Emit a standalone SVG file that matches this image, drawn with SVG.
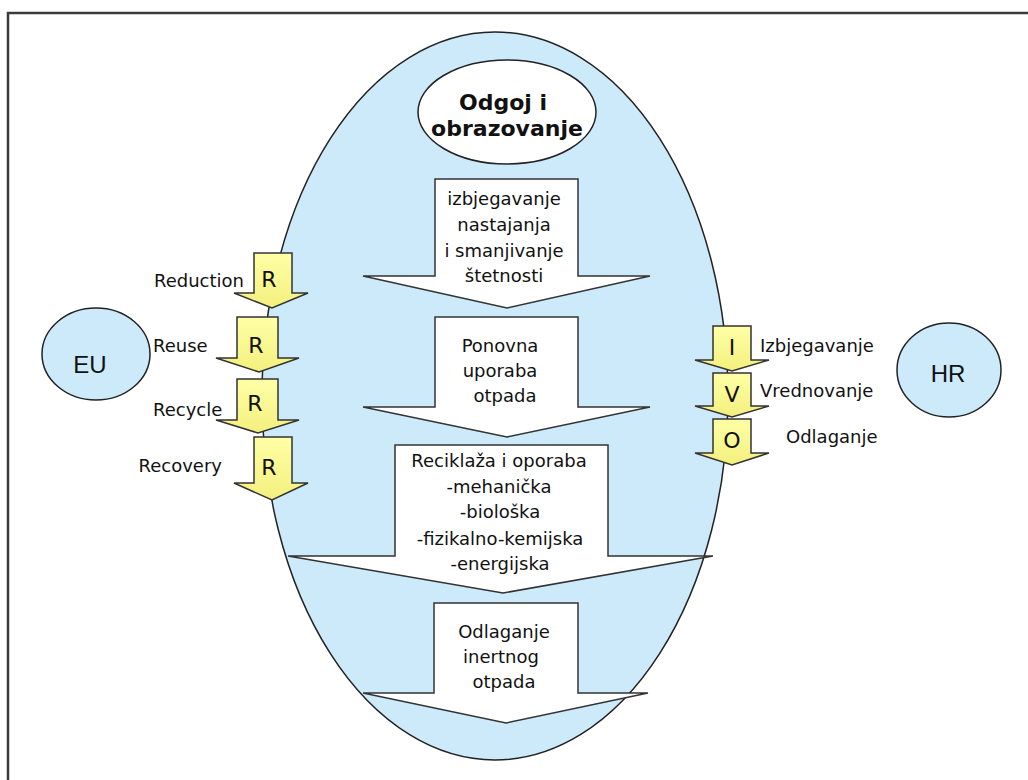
<svg xmlns="http://www.w3.org/2000/svg" width="1028" height="780" viewBox="0 0 1028 780">
<style>
  .frame{fill:#ffffff;stroke:#3a3a3a;stroke-width:2.5}
  .big{fill:#cdeafb;stroke:#222;stroke-width:1.5}
  .oval{fill:#cdeafb;stroke:#222;stroke-width:1.5}
  .white{fill:#ffffff;stroke:#222;stroke-width:1.5}
  .warrow{fill:#ffffff;stroke:#333;stroke-width:1.5;stroke-linejoin:miter}
  .yarrow{fill:url(#yg);stroke:#333;stroke-width:1.5;stroke-linejoin:miter}
  .t{font-family:"DejaVu Sans",Verdana,sans-serif;font-size:18px;fill:#111}
  .c{text-anchor:middle}
  .e{text-anchor:end}
  .letter{font-family:"DejaVu Sans",Verdana,sans-serif;font-size:22px;fill:#111;text-anchor:middle}
  .title{font-family:"DejaVu Sans",Verdana,sans-serif;font-size:22px;font-weight:bold;fill:#111;text-anchor:middle}
  .big-l{font-family:"Liberation Sans",Arial,sans-serif;font-size:24px;fill:#111;text-anchor:middle}
</style>
<defs>
  <linearGradient id="yg" x1="0" y1="0" x2="0" y2="1">
    <stop offset="0" stop-color="#ffffa6"/>
    <stop offset="1" stop-color="#f3f07e"/>
  </linearGradient>
</defs>
<rect class="frame" x="8" y="13" width="1040" height="790"/>

<g id="main-ellipse">
  <ellipse class="big" cx="495" cy="396" rx="233" ry="364"/>
</g>

<g id="odgoj">
  <ellipse class="white" cx="507" cy="112" rx="89" ry="52"/>
  <text class="title" x="503" y="110">Odgoj i</text>
  <text class="title" x="507" y="136">obrazovanje</text>
</g>

<g id="step-izbjegavanje">
  <path class="warrow" d="M435,179 H578 V276 H650 L507,308 L363,276 H435 Z"/>
  <text class="t c" x="504" y="205">izbjegavanje</text>
  <text class="t c" x="504" y="231">nastajanja</text>
  <text class="t c" x="504" y="257">i smanjivanje</text>
  <text class="t c" x="504" y="282">štetnosti</text>
</g>

<g id="step-ponovna">
  <path class="warrow" d="M435,317 H578 V407 H650 L507,437 L363,407 H435 Z"/>
  <text class="t c" x="500" y="352">Ponovna</text>
  <text class="t c" x="500" y="377">uporaba</text>
  <text class="t c" x="505" y="402">otpada</text>
</g>

<g id="step-reciklaza">
  <path class="warrow" d="M395,445 H608 V556 H713 L503,593 L288,556 H395 Z"/>
  <text class="t c" x="499" y="467">Reciklaža i oporaba</text>
  <text class="t c" x="499" y="493">-mehanička</text>
  <text class="t c" x="500" y="518">-biološka</text>
  <text class="t c" x="500" y="545">-fizikalno-kemijska</text>
  <text class="t c" x="500" y="570">-energijska</text>
</g>

<g id="step-odlaganje">
  <path class="warrow" d="M434,603 H578 V693 H648 L506,723 L363,693 H434 Z"/>
  <text class="t c" x="504" y="638">Odlaganje</text>
  <text class="t c" x="501" y="663">inertnog</text>
  <text class="t c" x="504" y="688">otpada</text>
</g>

<g id="eu">
  <ellipse class="oval" cx="96" cy="354" rx="54" ry="46"/>
  <text class="big-l" x="90" y="373">EU</text>
</g>

<g id="hr">
  <ellipse class="oval" cx="949" cy="370" rx="52" ry="47"/>
  <text class="big-l" x="948" y="382">HR</text>
</g>

<g id="r-reduction">
  <path class="yarrow" d="M254,253 H292 V293 H308 L272,308 L234,293 H254 Z"/>
  <text class="letter" x="269" y="287">R</text>
  <text class="t e" x="244" y="287">Reduction</text>
</g>
<g id="r-reuse">
  <path class="yarrow" d="M237,317 H278 V358 H299 L259,372 L216,358 H237 Z"/>
  <text class="letter" x="256" y="353">R</text>
  <text class="t" x="153" y="352">Reuse</text>
</g>
<g id="r-recycle">
  <path class="yarrow" d="M237,379 H278 V420 H299 L258,433 L216,420 H237 Z"/>
  <text class="letter" x="255" y="411">R</text>
  <text class="t" x="153" y="416">Recycle</text>
</g>
<g id="r-recovery">
  <path class="yarrow" d="M254,437 H292 V483 H308 L272,500 L234,483 H254 Z"/>
  <text class="letter" x="269" y="475">R</text>
  <text class="t e" x="222" y="472">Recovery</text>
</g>

<g id="i-izbjegavanje">
  <path class="yarrow" d="M713,326 H751 V360 H769 L732,371 L695,360 H713 Z"/>
  <text class="letter" x="732" y="355">I</text>
  <text class="t" x="760" y="352">Izbjegavanje</text>
</g>
<g id="v-vrednovanje">
  <path class="yarrow" d="M713,373 H751 V406 H769 L732,417 L695,406 H713 Z"/>
  <text class="letter" x="732" y="402">V</text>
  <text class="t" x="760" y="397">Vrednovanje</text>
</g>
<g id="o-odlaganje">
  <path class="yarrow" d="M713,419 H751 V453 H769 L732,465 L695,453 H713 Z"/>
  <text class="letter" x="732" y="448">O</text>
  <text class="t" x="786" y="443">Odlaganje</text>
</g>

<g id="connectors"></g>
</svg>
